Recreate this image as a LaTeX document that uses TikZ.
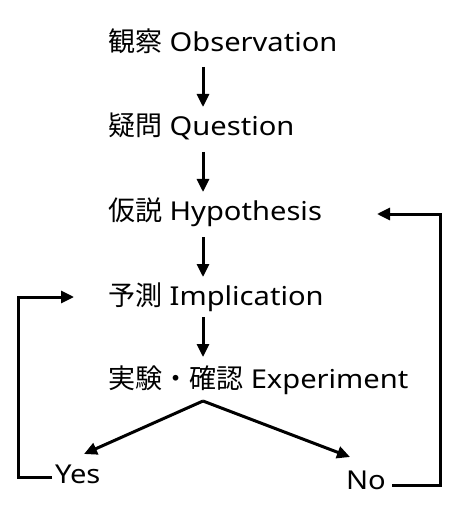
\documentclass[tikz,border=0pt]{standalone}
\usepackage{fontspec}
\setmainfont{Noto Sans}[FakeStretch=1.12]
\newfontfamily\cjk{Noto Sans CJK JP}[Scale=1.04]
\usetikzlibrary{arrows.meta}
\tikzset{
  lbl/.style={inner sep=0pt, outer sep=0pt, anchor=base west, font=\fontsize{26bp}{30bp}\selectfont},
  arr/.style={line width=3bp, -{Triangle[width=12bp,length=13bp]}},
  ln/.style={line width=3bp}
}
\begin{document}
\begin{tikzpicture}[x=1bp,y=-1bp]
\useasboundingbox (0,0) rectangle (459,524);
\node[lbl] (obs) at (108,52) {{\cjk 観察} Observation};
\node[lbl] (que) at (108,136) {{\cjk 疑問} Question};
\node[lbl] (hyp) at (108,220) {{\cjk 仮説} Hypothesis};
\node[lbl] (imp) at (108,305) {{\cjk 予測} Implication};
\node[lbl] (exp) at (108,388) {{\cjk 実験・確認} Experiment};
\node[lbl] (yes) at (55,483) {Yes};
\node[lbl] (no) at (346,489) {No};
% arrow ends
\coordinate (a1) at (203,67);  \coordinate (b1) at (203,107);
\coordinate (a2) at (203,152); \coordinate (b2) at (203,192);
\coordinate (a3) at (203,237); \coordinate (b3) at (203,277);
\coordinate (a4) at (203,317); \coordinate (b4) at (203,357);
\coordinate (apex) at (203,401);
\coordinate (yestip) at (84,454);
\coordinate (notip) at (350,457);
\coordinate (yesout) at (52,477);
\coordinate (impin) at (74,297);
\coordinate (noout) at (392,485);
\coordinate (hypin) at (377,214);
\draw[arr] (a1) -- (b1);
\draw[arr] (a2) -- (b2);
\draw[arr] (a3) -- (b3);
\draw[arr] (a4) -- (b4);
\draw[arr] (apex) -- (yestip);
\draw[arr] (apex) -- (notip);
\draw[arr] (yesout) -- (18,477) |- (impin);
\draw[arr] (noout) -- (440,485) |- (hypin);
\end{tikzpicture}
\end{document}
